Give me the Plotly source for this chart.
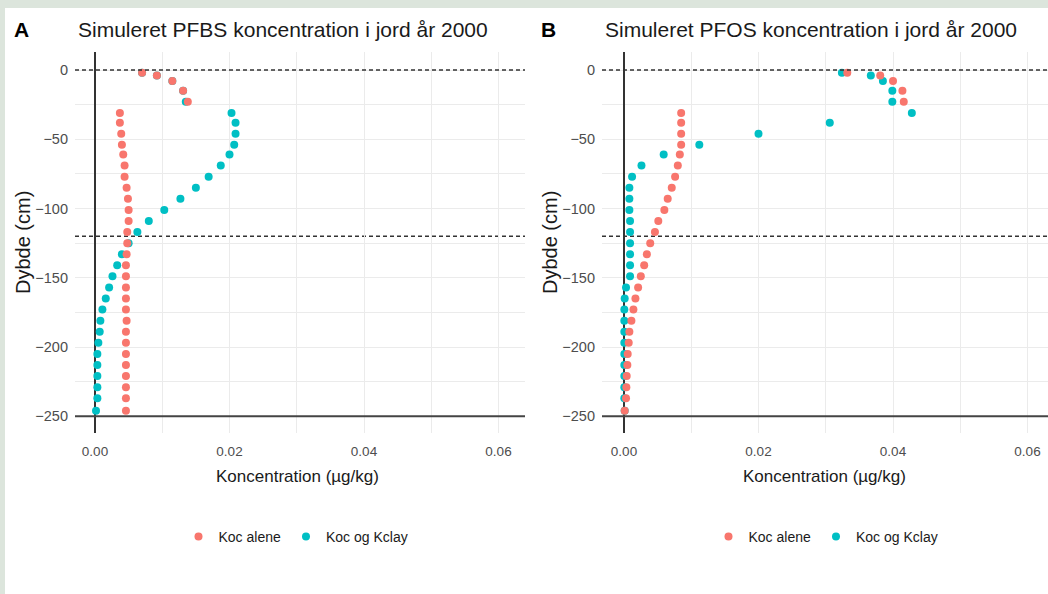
import plotly.graph_objects as go

# ---------------- data ----------------
depth = [-2, -4, -8, -15, -23,
         -31, -38, -46, -54, -61, -69, -77, -85, -93, -101, -109, -117, -125,
         -133, -141, -149, -157, -165, -173, -181, -189, -197, -205, -213,
         -221, -229, -237, -246]

pfbs_koc = [0.0070, 0.0092, 0.0115, 0.0131, 0.0138,
            0.0037, 0.0037, 0.0039, 0.0040, 0.0042, 0.0044, 0.0044, 0.0047,
            0.0049, 0.0050, 0.0050, 0.0048, 0.0048,
            0.0047, 0.0046, 0.0046, 0.0046, 0.0046, 0.0046, 0.0047, 0.0046,
            0.0046, 0.0046, 0.0046, 0.0046, 0.0046, 0.0046, 0.0046]

pfbs_kclay = [0.0070, 0.0092, 0.0115, 0.0131, 0.0135,
              0.0203, 0.0209, 0.0209, 0.0207, 0.0200, 0.0187, 0.0169, 0.0150,
              0.0127, 0.0103, 0.0080, 0.0063, 0.0050,
              0.0040, 0.0033, 0.0026, 0.0021, 0.0016, 0.0011, 0.0008, 0.0007,
              0.0005, 0.00035, 0.00035, 0.00035, 0.00035, 0.00035, 0.00015]

pfos_koc = [0.0332, 0.0381, 0.0400, 0.0414, 0.0416,
            0.0085, 0.0085, 0.0085, 0.0085, 0.0083, 0.0080, 0.0076, 0.0071,
            0.0065, 0.0060, 0.0051, 0.0046, 0.0039,
            0.0034, 0.0030, 0.0025, 0.0021, 0.0017, 0.0014, 0.0011, 0.0008,
            0.0007, 0.00055, 0.0005, 0.0004, 0.00035, 0.0003, 0.0001]

pfos_kclay = [0.0324, 0.0367, 0.0385, 0.0399, 0.0399,
              0.0428, 0.0306, 0.0200, 0.0112, 0.0059, 0.0026, 0.0012, 0.0008,
              0.0008, 0.0008, 0.0009, 0.0009, 0.0009,
              0.0009, 0.0009, 0.0009, 0.0003, 0.0001, 0.00005, 0.00005, 0.00005,
              0.00005, 0.00005, 0.00005, 0.00005, 0.00005, 0.00005, 0.0001]

series_names = ["Koc alene", "Koc og Kclay"]
panel_titles = ["Simuleret PFBS koncentration i jord år 2000",
                "Simuleret PFOS koncentration i jord år 2000"]
panel_tags = ["A", "B"]
x_title = "Koncentration (µg/kg)"
y_title = "Dybde (cm)"
x_ticks = [0.0, 0.02, 0.04, 0.06]
x_ticklabels = ["0.00", "0.02", "0.04", "0.06"]
y_ticks = [0, -50, -100, -150, -200, -250]
ref_lines_dashed = [0, -120]
ref_line_bottom = -250

RED = "#F8766D"
TEAL = "#00BFC4"
FONT = "Liberation Sans, Arial, sans-serif"

W, H = 1048, 594

fig = go.Figure()

panels = [
    (pfbs_koc, pfbs_kclay, "x", "y", "legend"),
    (pfos_koc, pfos_kclay, "x2", "y2", "legend2"),
]
for koc, kclay, xa, ya, lg in panels:
    fig.add_trace(go.Scatter(x=kclay, y=depth, mode="markers", name=series_names[1],
                             marker=dict(color=TEAL, size=8), xaxis=xa, yaxis=ya,
                             legend=lg, legendrank=2))
    fig.add_trace(go.Scatter(x=koc, y=depth, mode="markers", name=series_names[0],
                             marker=dict(color=RED, size=8), xaxis=xa, yaxis=ya,
                             legend=lg, legendrank=1))

# panel geometry in pixels
pA = dict(left=75, right=525, zero=95)
pB = dict(left=602, right=1048, zero=624)
px_per_unit = 6725.0
top_px, bot_px, y0_px, px_per_cm = 52, 433, 70, 1.385

def xr(p):
    return [(p["left"] - p["zero"]) / px_per_unit, (p["right"] - p["zero"]) / px_per_unit]

yrange = [-(bot_px - y0_px) / px_per_cm, (y0_px - top_px) / px_per_cm]
ydom = [(H - bot_px) / H, (H - top_px) / H]

GRID = "#ebebeb"

for i, p in enumerate([pA, pB]):
    sfx = "" if i == 0 else "2"
    fig.layout["xaxis" + sfx] = dict(
        domain=[p["left"] / W, min(p["right"] / W, 1.0)], range=xr(p),
        anchor="y" + sfx, tickvals=x_ticks, ticktext=x_ticklabels,
        showline=False, ticks="", gridcolor=GRID, gridwidth=1.4,
        zeroline=True, zerolinecolor="#333333", zerolinewidth=1.6,
        minor=dict(dtick=0.01, tick0=0, showgrid=True, gridcolor=GRID, gridwidth=1.2),
        tickfont=dict(family=FONT, size=13.5, color="#4d4d4d"),
        ticklabelstandoff=8)
    fig.layout["yaxis" + sfx] = dict(
        domain=ydom, range=yrange, anchor="x" + sfx, tickvals=y_ticks,
        showline=False, ticks="", gridcolor=GRID, gridwidth=1.4, zeroline=False,
        minor=dict(dtick=25, tick0=0, showgrid=True, gridcolor=GRID, gridwidth=1.2),
        tickfont=dict(family=FONT, size=14.5, color="#4d4d4d"),
        ticklabelstandoff=6)

shapes = []
# light frame band top / left
shapes.append(dict(type="rect", xref="paper", yref="paper", x0=0, x1=1,
                   y0=(H - 8) / H, y1=1, fillcolor="#dce5dc", line=dict(width=0), layer="below"))
shapes.append(dict(type="rect", xref="paper", yref="paper", x0=0, x1=5 / W,
                   y0=0, y1=1, fillcolor="#dce5dc", line=dict(width=0), layer="below"))
for sfx in ["", "2"]:
    xa = "x" + sfx
    ya = "y" + sfx
    for yv in ref_lines_dashed:
        shapes.append(dict(type="line", xref=xa + " domain", yref=ya, x0=0, x1=1, y0=yv, y1=yv,
                           line=dict(color="#333333", width=1.5, dash="4px,3px"),
                           layer="above" if yv == 0 else "below"))
    shapes.append(dict(type="line", xref=xa + " domain", yref=ya, x0=0, x1=1,
                       y0=ref_line_bottom, y1=ref_line_bottom,
                       line=dict(color="#444444", width=1.8), layer="above"))

annotations = []
for i, p in enumerate([pA, pB]):
    annotations.append(dict(text="<b>%s</b>" % panel_tags[i], xref="paper", yref="paper",
                            x=(p["left"] - 63) / W, y=1 - 30 / H, xanchor="left", yanchor="middle",
                            showarrow=False, font=dict(family=FONT, size=21, color="#000000")))
    annotations.append(dict(text=panel_titles[i], xref="paper", yref="paper",
                            x=(p["left"] + 1) / W, y=1 - 30 / H, xanchor="left", yanchor="middle",
                            showarrow=False, font=dict(family=FONT, size=21, color="#1a1a1a")))
    annotations.append(dict(text=y_title, xref="paper", yref="paper", textangle=-90,
                            x=(p["left"] - 52) / W, y=1 - 243 / H, xanchor="center", yanchor="middle",
                            showarrow=False, font=dict(family=FONT, size=20, color="#1a1a1a")))
    annotations.append(dict(text=x_title, xref="paper", yref="paper",
                            x=(p["left"] + 222) / W, y=1 - 476 / H, xanchor="center", yanchor="middle",
                            showarrow=False, font=dict(family=FONT, size=17, color="#1a1a1a")))

legend_style = dict(orientation="h", xanchor="center", yanchor="middle",
                    font=dict(family=FONT, size=14, color="#1a1a1a"),
                    bgcolor="rgba(0,0,0,0)", traceorder="normal")

fig.update_layout(
    width=W, height=H, margin=dict(l=0, r=0, t=0, b=0),
    paper_bgcolor="white", plot_bgcolor="white",
    shapes=shapes, annotations=annotations, showlegend=True,
    legend=dict(x=296 / W, y=1 - 537 / H, **legend_style),
    legend2=dict(x=826 / W, y=1 - 537 / H, **legend_style),
    font=dict(family=FONT),
)

fig.write_html("out.html")
